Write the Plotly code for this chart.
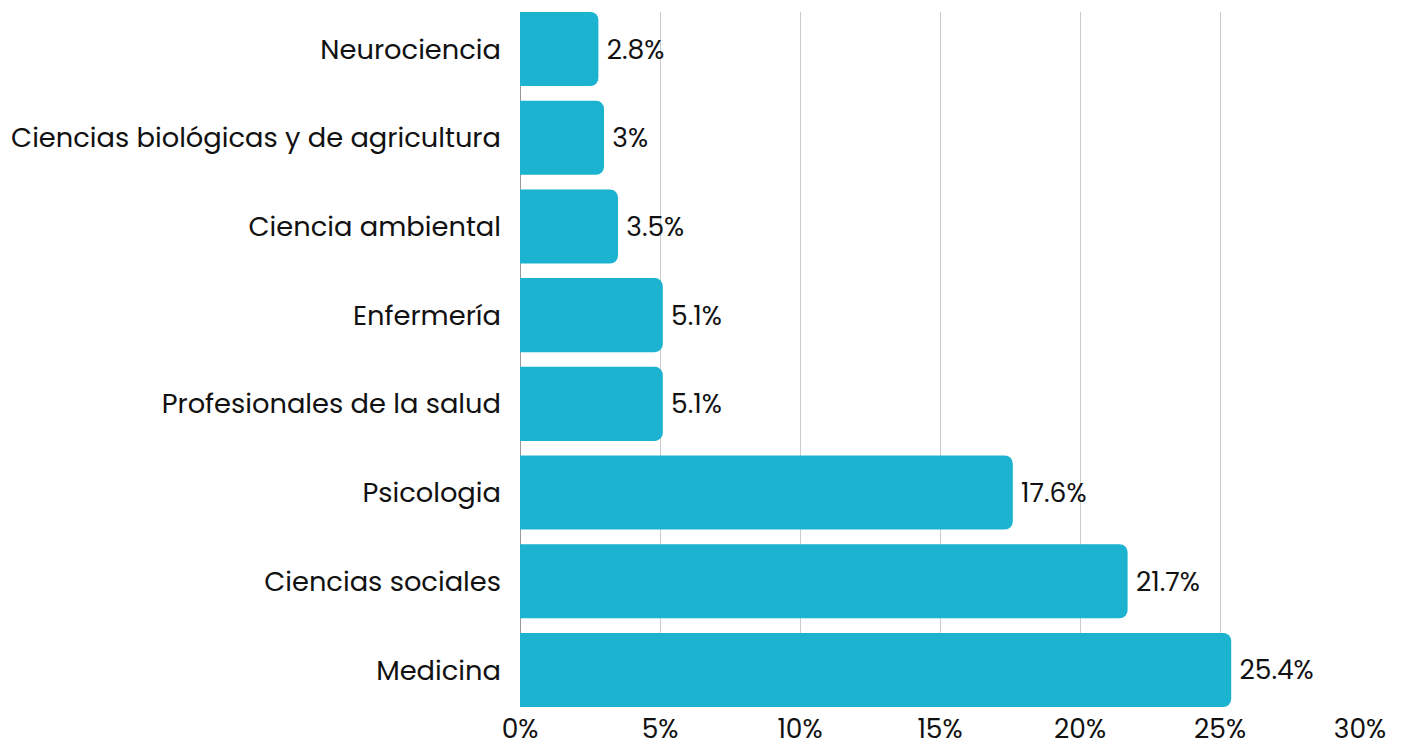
import plotly.graph_objects as go

categories = ["Neurociencia", "Ciencias biológicas y de agricultura", "Ciencia ambiental",
              "Enfermería", "Profesionales de la salud", "Psicologia", "Ciencias sociales", "Medicina"]
values = [2.8, 3, 3.5, 5.1, 5.1, 17.6, 21.7, 25.4]
tick_vals = [0, 5, 10, 15, 20, 25, 30]
tick_text = ["0%", "5%", "10%", "15%", "20%", "25%", "30%"]
value_labels = ["\u2009" + f"{v:g}%" for v in values]

FONT = "Poppins, Inter, Lato, sans-serif"

fig = go.Figure(go.Bar(
    x=values, y=categories, orientation="h",
    marker=dict(color="#1BB3CF", line=dict(width=0)),
    width=0.835,
    text=value_labels, texttemplate="%{text}", textposition="outside",
    textfont=dict(size=26.5, color="#111111", family=FONT),
    cliponaxis=False,
    hoverinfo="x+y",
))
fig.update_layout(
    width=1402, height=744,
    margin=dict(l=512, r=50, t=4, b=45, autoexpand=False),
    paper_bgcolor="white", plot_bgcolor="white",
    barcornerradius=8,
    showlegend=False,
    font=dict(family=FONT, size=27, color="#111111"),
    xaxis=dict(range=[0, 30], tickvals=tick_vals, ticktext=tick_text,
               showgrid=True, gridcolor="#cccccc", gridwidth=1,
               zeroline=True, zerolinecolor="#999999", zerolinewidth=1,
               ticks="", tickfont=dict(size=26.5), ticklabelstandoff=3,
               automargin=False),
    yaxis=dict(range=[7.4175, -0.4175], type="category", showgrid=False,
               ticks="", tickfont=dict(size=27.3), ticklabelstandoff=18,
               automargin=False),
)
fig.write_html("out.html")
